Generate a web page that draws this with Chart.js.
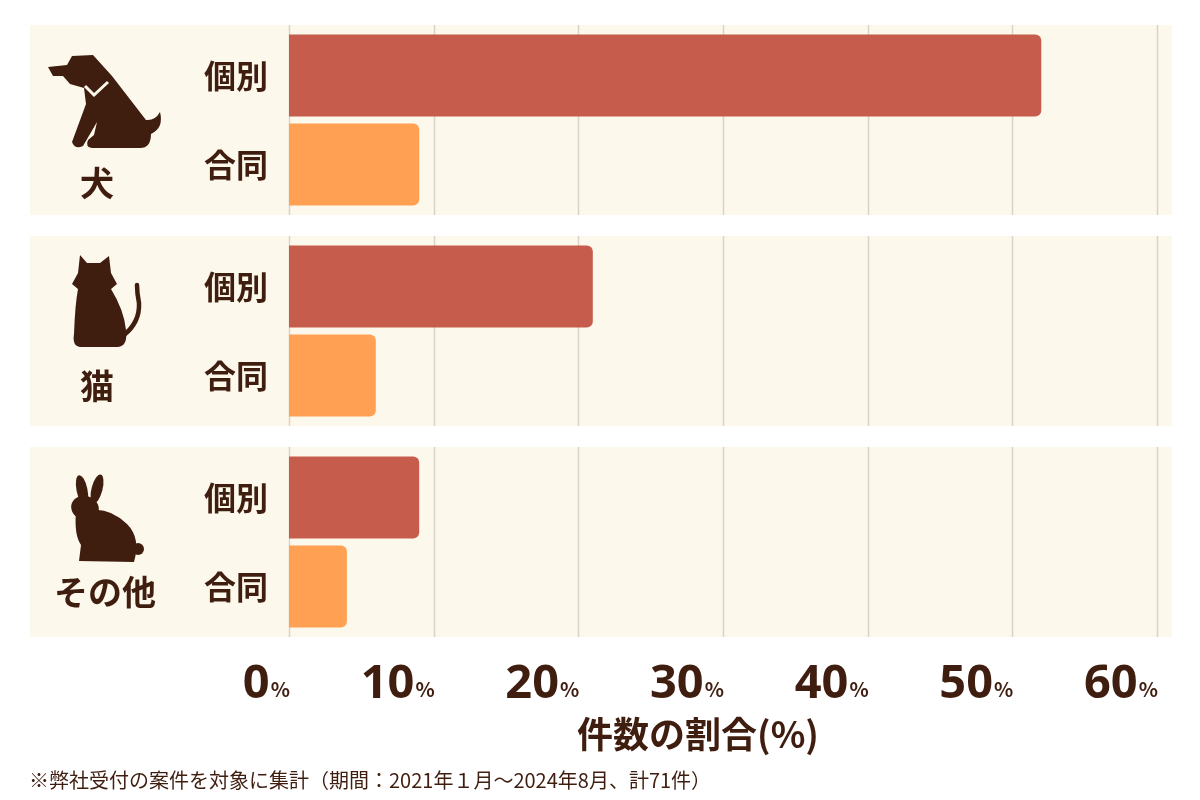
<!DOCTYPE html>
<html>
<head>
<meta charset="utf-8">
<script src="https://cdn.jsdelivr.net/npm/chart.js@4"></script>
<style>
  body { margin: 0; background: #ffffff; }
  canvas { display: block; }
</style>
</head>
<body>
<canvas id="pet-chart" width="1200" height="800"></canvas>
<script>
// data (share of cases, %)
var animals = ['犬', '猫', 'その他'];
var kinds = ['個別', '合同'];
var individual = [52, 21, 9];
var joint = [9, 6, 4];
var xTicks = [0, 10, 20, 30, 40, 50, 60];
var axisTitle = '件数の割合(%)';
var footnote = '※弊社受付の案件を対象に集計（期間：2021年１月～2024年8月、計71件）';

var textColor = '#3f1e10';
var panelColor = '#fdf8ec';
var gridColor = '#d9d3c9';
var jpFont = '"Noto Sans CJK JP", "Noto Sans", sans-serif';

function drawDog(ctx) {
    ctx.beginPath();
    ctx.moveTo(48, 67);
    ctx.lineTo(67, 65);
    ctx.lineTo(72, 56);
    ctx.lineTo(93, 55);
    ctx.lineTo(112, 76);
    ctx.lineTo(146, 120);
    ctx.quadraticCurveTo(155, 121, 160, 112);
    ctx.quadraticCurveTo(164, 128, 151, 134);
    ctx.quadraticCurveTo(151, 148, 140, 148);
    ctx.lineTo(92, 148);
    ctx.quadraticCurveTo(85, 147, 88, 140);
    ctx.lineTo(94, 135);
    ctx.lineTo(97, 122);
    ctx.lineTo(83, 146);
    ctx.quadraticCurveTo(75, 150, 72, 142);
    ctx.lineTo(86, 104);
    ctx.lineTo(84, 88);
    ctx.lineTo(70, 84);
    ctx.lineTo(63, 76);
    ctx.lineTo(53, 76);
    ctx.closePath();
    ctx.fill();
    // collar
    ctx.save();
    ctx.strokeStyle = panelColor;
    ctx.lineWidth = 3;
    ctx.beginPath();
    ctx.moveTo(85, 86);
    ctx.lineTo(94, 95);
    ctx.lineTo(108, 82);
    ctx.stroke();
    ctx.restore();
}

function drawCat(ctx) {
    ctx.beginPath();
    ctx.moveTo(80, 255);
    ctx.lineTo(87, 263);
    ctx.lineTo(100, 263);
    ctx.lineTo(109, 256);
    ctx.lineTo(111, 273);
    ctx.lineTo(117, 284);
    ctx.lineTo(111, 289);
    ctx.quadraticCurveTo(124, 310, 126, 330);
    ctx.quadraticCurveTo(128, 346, 118, 347);
    ctx.lineTo(80, 347);
    ctx.quadraticCurveTo(72, 346, 74, 334);
    ctx.quadraticCurveTo(75, 305, 78, 289);
    ctx.lineTo(72, 284);
    ctx.lineTo(78, 273);
    ctx.closePath();
    ctx.fill();
    ctx.save();
    ctx.strokeStyle = textColor;
    ctx.lineWidth = 4.5;
    ctx.lineCap = 'round';
    ctx.beginPath();
    ctx.moveTo(124, 335);
    ctx.quadraticCurveTo(140, 322, 139, 303);
    ctx.quadraticCurveTo(137, 293, 137, 285);
    ctx.stroke();
    ctx.restore();
}

function drawRabbit(ctx) {
    ctx.save();
    ctx.translate(82, 490);
    ctx.rotate(-0.2);
    ctx.beginPath();
    ctx.ellipse(0, 0, 5.5, 15, 0, 0, Math.PI * 2);
    ctx.fill();
    ctx.restore();
    ctx.save();
    ctx.translate(97, 489);
    ctx.rotate(0.25);
    ctx.beginPath();
    ctx.ellipse(0, 0, 5.5, 15, 0, 0, Math.PI * 2);
    ctx.fill();
    ctx.restore();
    ctx.beginPath();
    ctx.ellipse(85, 508, 14, 12, 0.3, 0, Math.PI * 2);
    ctx.fill();
    ctx.beginPath();
    ctx.moveTo(76, 512);
    ctx.quadraticCurveTo(74, 535, 81, 545);
    ctx.lineTo(79, 561);
    ctx.lineTo(134, 562);
    ctx.quadraticCurveTo(141, 538, 127, 524);
    ctx.quadraticCurveTo(110, 508, 92, 510);
    ctx.closePath();
    ctx.fill();
    ctx.beginPath();
    ctx.arc(138, 549, 6, 0, Math.PI * 2);
    ctx.fill();
}

var icons = [drawDog, drawCat, drawRabbit];
var nameOffsets = [63, 55, 50];

var decorPlugin = {
    id: 'decor',
    beforeDraw: function(chart) {
        var ctx = chart.ctx;
        var x = chart.scales.x, y = chart.scales.y;
        ctx.save();
        ctx.fillStyle = '#ffffff';
        ctx.fillRect(0, 0, chart.width, chart.height);
        for (var i = 0; i < animals.length; i++) {
            var cy = y.getPixelForValue(i);
            ctx.fillStyle = panelColor;
            ctx.fillRect(30, cy - 95, 1142, 190);
            ctx.strokeStyle = gridColor;
            ctx.lineWidth = 1.5;
            for (var t = 0; t < xTicks.length; t++) {
                var px = Math.round(x.getPixelForValue(xTicks[t])) + 0.5;
                ctx.beginPath();
                ctx.moveTo(px, cy - 95);
                ctx.lineTo(px, cy + 95);
                ctx.stroke();
            }
        }
        ctx.restore();
    },
    afterDraw: function(chart) {
        var ctx = chart.ctx;
        var x = chart.scales.x, y = chart.scales.y;
        ctx.save();
        ctx.fillStyle = textColor;
        ctx.textAlign = 'center';
        ctx.textBaseline = 'middle';
        for (var i = 0; i < animals.length; i++) {
            var cy = y.getPixelForValue(i);
            icons[i](ctx);
            ctx.font = 'bold 34px ' + jpFont;
            ctx.fillText(animals[i], i == 2 ? 105 : 97, cy + nameOffsets[i]);
            for (var d = 0; d < kinds.length; d++) {
                var bar = chart.getDatasetMeta(d).data[i];
                ctx.font = 'bold 32px ' + jpFont;
                ctx.fillText(kinds[d], 236, bar.y);
            }
        }
        // tick labels: big number + small %, right-aligned on the grid line
        ctx.textBaseline = 'alphabetic';
        ctx.textAlign = 'right';
        for (var t = 0; t < xTicks.length; t++) {
            var px = x.getPixelForValue(xTicks[t]);
            ctx.font = 'bold 20px ' + jpFont;
            var pw = ctx.measureText('%').width;
            ctx.fillText('%', px + 1, 697);
            ctx.font = 'bold 47px "Noto Sans", sans-serif';
            ctx.fillText(String(xTicks[t]), px - pw, 698);
        }
        ctx.textAlign = 'center';
        ctx.font = 'bold 36px ' + jpFont;
        ctx.fillText(axisTitle, 698, 748);
        ctx.textAlign = 'left';
        ctx.font = '20px ' + jpFont;
        ctx.fillText(footnote, 29, 788);
        ctx.restore();
    }
};

var canvas = document.getElementById('pet-chart');
var ctx = canvas.getContext('2d');
var chart = new Chart(ctx, {
    type: 'bar',
    data: {
        labels: animals,
        datasets: [
            { label: kinds[0], data: individual, backgroundColor: '#c65c4b' },
            { label: kinds[1], data: joint, backgroundColor: '#ffa052' }
        ]
    },
    options: {
        indexAxis: 'y',
        responsive: false,
        animation: false,
        devicePixelRatio: 1,
        categoryPercentage: 178 / 211,
        barPercentage: 82 / 89,
        borderRadius: 6,
        borderSkipped: 'start',
        layout: { padding: { left: 289, right: 43, top: 14.5, bottom: 152.5 } },
        plugins: {
            legend: { display: false },
            tooltip: { enabled: false }
        },
        scales: {
            x: { display: false, min: 0, max: 60 },
            y: { display: false }
        }
    },
    plugins: [decorPlugin]
});
</script>
</body>
</html>
